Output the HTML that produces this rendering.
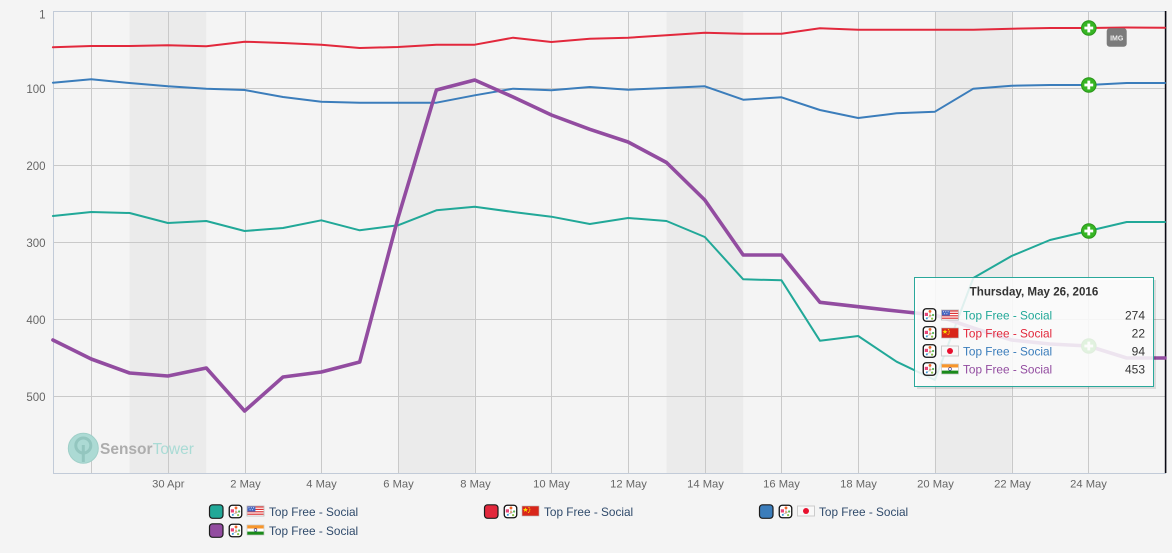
<!DOCTYPE html>
<html><head><meta charset="utf-8"><style>
html,body{margin:0;padding:0;background:#f4f4f4;}
svg{display:block;font-family:"Liberation Sans",sans-serif;}
</style></head><body>
<svg width="1172" height="553" viewBox="0 0 1172 553" xmlns="http://www.w3.org/2000/svg">
<defs>
<g id="app">
<rect x="0.75" y="0.75" width="12.5" height="12.5" rx="3" fill="#fff" stroke="#111" stroke-width="1.3"/>
<rect x="2.3" y="4.8" width="3.2" height="3.2" fill="#e8457a"/>
<line x1="7.5" y1="4" x2="7.5" y2="9.5" stroke="#aaa" stroke-width="0.7"/>
<line x1="4" y1="10" x2="10.5" y2="7" stroke="#aaa" stroke-width="0.6"/>
<circle cx="7.5" cy="3.4" r="1.4" fill="#f2652a"/>
<circle cx="10.6" cy="7" r="1.1" fill="#5cb85c"/>
<circle cx="9.6" cy="10.6" r="1.1" fill="#8bc34a"/>
<circle cx="4.3" cy="10.4" r="1" fill="#3a9ad9"/>
<circle cx="7.5" cy="7.5" r="0.9" fill="#d84"/>
</g>
<g id="us">
<rect x="0" y="0" width="17" height="10" fill="#fff" stroke="#bbb" stroke-width="0.8"/>
<rect x="0.4" y="0.4" width="16.2" height="1.2" fill="#d33"/>
<rect x="0.4" y="2.8" width="16.2" height="1.2" fill="#d33"/>
<rect x="0.4" y="5.2" width="16.2" height="1.2" fill="#d33"/>
<rect x="0.4" y="7.6" width="16.2" height="1.2" fill="#d33"/>
<rect x="0.4" y="0.4" width="8" height="5.2" fill="#4466c0"/>
<circle cx="2" cy="1.8" r="0.5" fill="#fff"/><circle cx="4.3" cy="1.8" r="0.5" fill="#fff"/><circle cx="6.6" cy="1.8" r="0.5" fill="#fff"/>
<circle cx="3.1" cy="3.8" r="0.5" fill="#fff"/><circle cx="5.4" cy="3.8" r="0.5" fill="#fff"/>
</g>
<g id="cn">
<rect x="0" y="0" width="17" height="10" fill="#d8261a" stroke="#b9b9b9" stroke-width="0.6"/>
<polygon points="3.5,1.2 4.2,3 6,3 4.6,4.1 5.1,5.9 3.5,4.8 1.9,5.9 2.4,4.1 1,3 2.8,3" fill="#ffde00"/>
<circle cx="7" cy="1.6" r="0.6" fill="#ffde00"/><circle cx="7.8" cy="3.2" r="0.6" fill="#ffde00"/>
<circle cx="7.6" cy="5" r="0.6" fill="#ffde00"/><circle cx="6.6" cy="6.4" r="0.6" fill="#ffde00"/>
</g>
<g id="jp">
<rect x="0" y="0" width="17" height="10" fill="#f8f8f8" stroke="#c8c8c8" stroke-width="0.9"/>
<circle cx="8.5" cy="5" r="3" fill="#e8102e"/>
</g>
<g id="in">
<rect x="0" y="0" width="17" height="10" fill="#fff" stroke="#bbb" stroke-width="0.6"/>
<rect x="0.3" y="0.3" width="16.4" height="3.2" fill="#f7962c"/>
<rect x="0.3" y="6.6" width="16.4" height="3.1" fill="#1a8a1a"/>
<circle cx="8.5" cy="5" r="1.4" fill="none" stroke="#2a2a8a" stroke-width="0.6"/>
</g>
<g id="mk">
<circle cx="0" cy="0" r="7.3" fill="#36b523" stroke="#2a951a" stroke-width="1"/>
<rect x="-4.4" y="-1.4" width="8.8" height="2.8" fill="#fff"/>
<rect x="-1.4" y="-4.4" width="2.8" height="8.8" fill="#fff"/>
</g>
</defs>

<!-- background -->
<rect x="0" y="0" width="1172" height="553" fill="#f4f4f4"/>

<!-- weekend bands -->
<g fill="#ebebeb">
<rect x="129.6" y="11" width="76.7" height="462"/>
<rect x="398" y="11" width="76.7" height="462"/>
<rect x="666.5" y="11" width="76.7" height="462"/>
<rect x="934.9" y="11" width="76.7" height="462"/>
</g>

<!-- grid -->
<g stroke="#c9c9c9" stroke-width="1" shape-rendering="crispEdges">
<line x1="53" y1="88.5" x2="1165" y2="88.5"/>
<line x1="53" y1="165.5" x2="1165" y2="165.5"/>
<line x1="53" y1="242.5" x2="1165" y2="242.5"/>
<line x1="53" y1="319.5" x2="1165" y2="319.5"/>
<line x1="53" y1="396.5" x2="1165" y2="396.5"/>
<line x1="91.5" y1="11" x2="91.5" y2="473"/>
<line x1="168.5" y1="11" x2="168.5" y2="473"/>
<line x1="245.5" y1="11" x2="245.5" y2="473"/>
<line x1="321.5" y1="11" x2="321.5" y2="473"/>
<line x1="398.5" y1="11" x2="398.5" y2="473"/>
<line x1="475.5" y1="11" x2="475.5" y2="473"/>
<line x1="551.5" y1="11" x2="551.5" y2="473"/>
<line x1="628.5" y1="11" x2="628.5" y2="473"/>
<line x1="705.5" y1="11" x2="705.5" y2="473"/>
<line x1="781.5" y1="11" x2="781.5" y2="473"/>
<line x1="858.5" y1="11" x2="858.5" y2="473"/>
<line x1="935.5" y1="11" x2="935.5" y2="473"/>
<line x1="1012.5" y1="11" x2="1012.5" y2="473"/>
<line x1="1088.5" y1="11" x2="1088.5" y2="473"/>
</g>
<g stroke="#c2cbd8" stroke-width="1" shape-rendering="crispEdges">
<line x1="53" y1="11.5" x2="1166" y2="11.5"/>
<line x1="53" y1="473.5" x2="1166" y2="473.5"/>
<line x1="53.5" y1="11" x2="53.5" y2="474"/>
</g>
<line x1="1165.6" y1="11" x2="1165.6" y2="473" stroke="#0a0a14" stroke-width="1.6"/>

<!-- logo -->
<g>
<circle cx="83.3" cy="448.3" r="15" fill="#acdad4" stroke="#9fcfc8" stroke-width="1"/>
<circle cx="83.3" cy="445.5" r="7.5" fill="none" stroke="#93c6bf" stroke-width="3"/>
<rect x="81.8" y="445" width="3" height="17" fill="#93c6bf"/>
<text x="100" y="454" font-size="15.5" font-weight="bold" fill="#adadad">Sensor<tspan font-weight="normal" fill="#a9dbd5">Tower</tspan></text>
</g>

<!-- axis labels -->
<g font-size="11.5" fill="#666" text-anchor="end">
<text x="45.5" y="18.5">1</text>
<text x="45.5" y="93">100</text>
<text x="45.5" y="170">200</text>
<text x="45.5" y="247">300</text>
<text x="45.5" y="324">400</text>
<text x="45.5" y="401">500</text>
</g>
<g font-size="11.2" fill="#666" text-anchor="middle">
<text x="168.3" y="487.5">30 Apr</text>
<text x="245.5" y="487.5">2 May</text>
<text x="321.5" y="487.5">4 May</text>
<text x="398.5" y="487.5">6 May</text>
<text x="475.5" y="487.5">8 May</text>
<text x="551.5" y="487.5">10 May</text>
<text x="628.5" y="487.5">12 May</text>
<text x="705.5" y="487.5">14 May</text>
<text x="781.5" y="487.5">16 May</text>
<text x="858.5" y="487.5">18 May</text>
<text x="935.5" y="487.5">20 May</text>
<text x="1012.5" y="487.5">22 May</text>
<text x="1088.5" y="487.5">24 May</text>
</g>

<!-- series -->
<g fill="none" stroke-linejoin="round" stroke-linecap="round">
<polyline stroke="#e2283c" stroke-width="2" points="52.9,47.3 91.2,46 129.6,46 167.9,45.3 206.3,46.3 244.6,41.7 283,43 321.3,44.7 359.7,48 398,47 436.4,44.7 474.7,44.7 513.1,37.7 551.4,42 589.8,38.7 628.1,37.7 666.5,35.3 704.8,32.7 743.2,33.7 781.5,33.7 819.9,28.3 858.2,29.7 896.6,29.7 934.9,29.7 973.3,29.7 1011.6,28.7 1050,28 1088.3,28 1126.7,27.5 1165,27.7"/>
<polyline stroke="#3b7dbb" stroke-width="2" points="52.9,82.7 91.2,79.3 129.6,83 167.9,86.3 206.3,88.7 244.6,90 283,97 321.3,101.7 359.7,102.7 398,102.7 436.4,102.7 474.7,95.3 513.1,88.7 551.4,90.3 589.8,87 628.1,89.7 666.5,88 704.8,86.3 743.2,99.7 781.5,97.3 819.9,110 858.2,118 896.6,113.3 934.9,111.7 973.3,88.7 1011.6,85.7 1050,85 1088.3,85 1126.7,83 1165,83"/>
<polyline stroke="#21a898" stroke-width="2" points="52.9,216 91.2,212 129.6,213 167.9,223 206.3,221 244.6,231 283,228 321.3,220.3 359.7,230.3 398,225.3 436.4,210.3 474.7,206.7 513.1,212 551.4,216.7 589.8,224 628.1,218 666.5,221 704.8,237 743.2,279.3 781.5,280.3 819.9,340.7 858.2,336 896.6,361.7 934.9,380 973.3,278 1011.6,256 1050,240 1088.3,231 1126.7,222 1165,222"/>
<polyline stroke="#924ca0" stroke-width="3.6" points="52.9,340 91.2,359 129.6,373 167.9,376 206.3,368 244.6,411 283,377 321.3,372 359.7,362 398,218 436.4,90 474.7,80 513.1,97 551.4,115 589.8,129.3 628.1,142 666.5,162.5 704.8,200 743.2,255 781.5,255 819.9,302.3 858.2,306.7 896.6,311 934.9,315 973.3,328 1011.6,340 1050,344 1088.3,346 1126.7,358 1165,358"/>
</g>

<!-- markers -->
<use href="#mk" x="1088.8" y="28"/>
<use href="#mk" x="1088.8" y="85"/>
<use href="#mk" x="1088.8" y="231"/>
<use href="#mk" x="1088.8" y="346"/>

<!-- IMG badge -->
<rect x="1106.7" y="28.3" width="20" height="18.4" rx="3" fill="#7b7b7b"/>
<text x="1116.7" y="40.5" font-size="7" font-weight="bold" fill="#f0f0f0" text-anchor="middle">IMG</text>

<!-- tooltip -->
<rect x="917" y="280" width="239" height="109" fill="rgba(0,0,0,0.10)"/>
<rect x="914.5" y="277.5" width="239" height="109" fill="rgba(255,255,255,0.86)" stroke="#2aa89b" stroke-width="1"/>
<text x="1034" y="295.5" font-size="11.6" font-weight="bold" fill="#333" text-anchor="middle">Thursday, May 26, 2016</text>
<use href="#app" x="922.5" y="308"/>
<use href="#us" x="941.5" y="310"/>
<use href="#app" x="922.5" y="326"/>
<use href="#cn" x="941.5" y="328"/>
<use href="#app" x="922.5" y="344"/>
<use href="#jp" x="941.5" y="346"/>
<use href="#app" x="922.5" y="362"/>
<use href="#in" x="941.5" y="364"/>
<g font-size="11.8">
<text x="963" y="319.5" fill="#21a898">Top Free - Social</text>
<text x="963" y="337.5" fill="#e2283c">Top Free - Social</text>
<text x="963" y="355.5" fill="#3b7dbb">Top Free - Social</text>
<text x="963" y="373.5" fill="#924ca0">Top Free - Social</text>
</g>
<g font-size="12" fill="#333" text-anchor="end">
<text x="1145" y="319.5">274</text>
<text x="1145" y="337.5">22</text>
<text x="1145" y="355.5">94</text>
<text x="1145" y="373.5">453</text>
</g>

<!-- legend -->
<g>
<rect x="209.5" y="504.8" width="13.5" height="13.5" rx="3" fill="#21a898" stroke="#1c1c1c" stroke-width="1.2"/>
<use href="#app" x="228.5" y="504.5"/>
<use href="#us" x="247" y="506"/>
<text x="269" y="516" font-size="11.8" fill="#2f4a6b">Top Free - Social</text>

<rect x="209.5" y="523.8" width="13.5" height="13.5" rx="3" fill="#924ca0" stroke="#1c1c1c" stroke-width="1.2"/>
<use href="#app" x="228.5" y="523.5"/>
<use href="#in" x="247" y="525"/>
<text x="269" y="535" font-size="11.8" fill="#2f4a6b">Top Free - Social</text>

<rect x="484.5" y="504.8" width="13.5" height="13.5" rx="3" fill="#e2283c" stroke="#1c1c1c" stroke-width="1.2"/>
<use href="#app" x="503.5" y="504.5"/>
<use href="#cn" x="522" y="506"/>
<text x="544" y="516" font-size="11.8" fill="#2f4a6b">Top Free - Social</text>

<rect x="759.5" y="504.8" width="13.5" height="13.5" rx="3" fill="#3b7dbb" stroke="#1c1c1c" stroke-width="1.2"/>
<use href="#app" x="778.5" y="504.5"/>
<use href="#jp" x="797.5" y="506"/>
<text x="819" y="516" font-size="11.8" fill="#2f4a6b">Top Free - Social</text>
</g>
</svg>
</body></html>
